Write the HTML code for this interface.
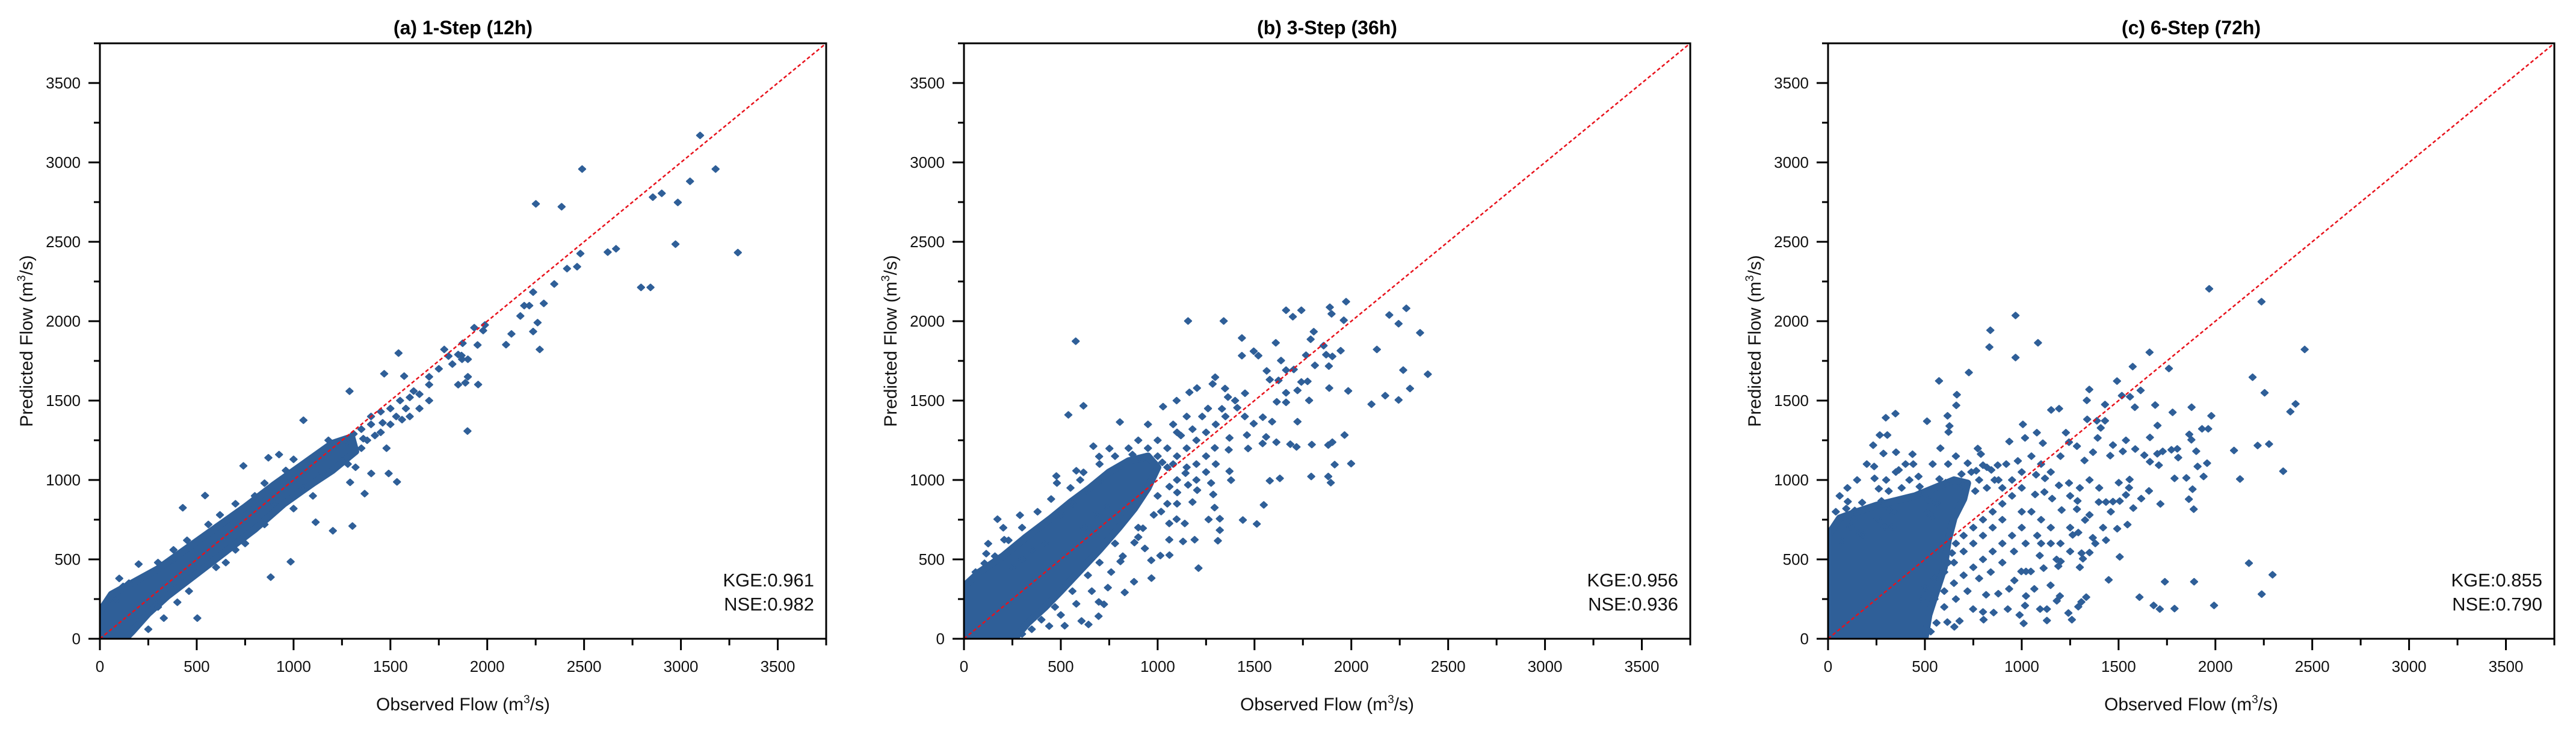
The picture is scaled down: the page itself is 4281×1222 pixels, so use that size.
<!DOCTYPE html>
<html><head><meta charset="utf-8">
<style>
html,body{margin:0;padding:0;background:#fff;}
svg{display:block;font-family:"Liberation Sans",Arial,sans-serif;}
</style></head>
<body>
<svg id="fig" width="4281" height="1222" viewBox="0 0 4281 1222" xmlns="http://www.w3.org/2000/svg"></svg>
<script>
// ---- data (observed, predicted in m3/s) ----
const panelTitles = ["(a) 1-Step (12h)", "(b) 3-Step (36h)", "(c) 6-Step (72h)"];
const kgeValues = ["0.961", "0.956", "0.855"];
const nseValues = ["0.982", "0.936", "0.790"];
const tickValues = [0, 500, 1000, 1500, 2000, 2500, 3000, 3500];
const axisMax = 3750;

const hullA = [[0,0],[0,170],[60,280],[150,340],[300,440],[450,570],[600,700],[750,830],[900,970],[1050,1100],[1200,1230],[1300,1270],[1320,1180],[1200,1060],[1100,980],[950,850],[800,690],[650,550],[500,410],[350,270],[250,160],[170,50],[130,0]];
const hullB = [[0,0],[0,330],[80,420],[200,520],[320,640],[450,760],[550,860],[650,950],[750,1050],[850,1120],[950,1150],[1000,1080],[950,950],[880,820],[800,700],[700,560],[600,430],[500,300],[420,200],[330,100],[260,0]];
const hullC = [[0,0],[0,650],[60,760],[150,800],[250,840],[350,870],[450,900],[550,950],[650,1000],[720,980],[700,880],[650,760],[620,620],[600,450],[560,300],[520,150],[500,0]];

const pointsA = [[3099,3170],[2490,2958],[3179,2958],[2251,2739],[2384,2721],[3047,2881],[2855,2781],[2901,2805],[2984,2748],[2972,2485],[3294,2432],[2794,2213],[2843,2213],[2622,2435],[2665,2456],[2481,2426],[2464,2343],[2412,2331],[2346,2234],[2237,2183],[2292,2112],[2191,2098],[2217,2098],[2171,2033],[2260,1991],[2237,1935],[2271,1822],[2097,1852],[2125,1920],[1933,1959],[1988,1976],[1979,1941],[1873,1861],[1778,1822],[1867,1784],[1898,1308],[1953,1601],[1887,1612],[1542,1799],[1468,1669],[1571,1654],[1534,988],[1491,1041],[1292,985],[1304,710],[1203,680],[1051,1376],[1289,1559],[1401,1041],[1367,914],[882,388],[985,485],[1114,734],[543,902],[428,825],[503,130],[741,1089],[925,1160],[870,1140],[1350,1320],[1400,1400],[1450,1430],[1500,1450],[1550,1500],[1600,1520],[1650,1540],[1700,1650],[1750,1700],[1800,1780],[1850,1790],[1900,1760],[1950,1850],[1350,1200],[1400,1350],[1450,1300],[1500,1350],[1600,1400],[1700,1500],[1700,1600],[1850,1600],[1900,1650],[1650,1450],[1320,1080],[1150,1050],[1820,1730],[1870,1760],[1000,1000],[1050,950],[900,850],[150,350],[120,330],[80,240],[200,470],[700,560],[600,450],[330,130],[250,60],[380,500],[1250,1120],[1280,1230],[1380,1250],[1420,1280],[1460,1360],[1530,1400],[1580,1450],[1620,1560],[1560,1380],[1480,1200],[1280,1100],[1360,1260],[1310,1290],[1180,1250],[1000,1130],[960,1060],[850,980],[800,900],[700,850],[620,780],[560,720],[450,620],[380,560],[300,480],[650,480],[750,600],[850,720],[1000,820],[1100,900],[460,300],[400,230],[300,200],[100,380]];

const pointsB = [[1973,2123],[1889,2088],[1663,2069],[1742,2069],[1698,2028],[1898,2046],[1961,2006],[2284,2081],[2196,2039],[2244,1984],[2355,1927],[1157,2001],[1341,2001],[577,1874],[1435,1894],[1610,1864],[1806,1934],[1790,1886],[1857,1846],[2132,1822],[1945,1814],[1435,1783],[1496,1811],[1520,1783],[1766,1786],[1870,1789],[1902,1778],[1637,1752],[1812,1722],[1884,1717],[1563,1687],[1663,1692],[1703,1696],[2268,1692],[2395,1666],[1579,1632],[1624,1627],[1297,1647],[1284,1605],[1742,1617],[1774,1621],[1886,1579],[1984,1561],[2303,1576],[2175,1531],[2244,1504],[2104,1477],[1663,1549],[1722,1564],[1782,1501],[1615,1492],[1663,1489],[1722,1367],[1591,1367],[1965,1283],[1902,1238],[1881,1220],[1796,1223],[1685,1225],[1717,1208],[1613,1238],[1542,1230],[1560,1271],[1999,1103],[1914,1097],[1881,1022],[1894,983],[1793,1022],[1631,1010],[1579,995],[1548,843],[1512,723],[1440,748],[1211,445],[539,1410],[617,1467],[805,1365],[1098,1500],[1028,1462],[1164,1552],[1203,1579],[1348,1576],[1451,1546],[1363,1522],[1332,1448],[1411,1455],[1543,1395],[1496,1355],[1461,1283],[1371,1265],[1367,1190],[1295,1202],[1467,1198],[1371,1055],[1379,999],[1276,981],[1287,909],[1294,826],[1321,756],[1321,684],[1311,617],[1263,751],[1191,624],[1131,613],[1140,726],[1098,753],[1060,726],[1060,624],[1061,527],[1014,524],[967,494],[968,382],[878,359],[830,292],[695,142],[643,90],[607,112],[520,82],[668,1213],[751,1198],[698,1148],[580,1058],[617,1048],[477,1025],[480,981],[173,753],[203,699],[289,778],[125,599],[115,536],[106,475],[208,624],[870,1160],[918,1130],[1024,1111],[1144,1043],[1157,969],[1204,936],[1180,861],[1101,921],[1061,958],[1018,801],[924,696],[880,606],[934,569],[808,487],[743,322],[723,217],[696,232],[1050,1080],[1100,1150],[1150,1200],[1200,1250],[1250,1300],[1300,1350],[1000,900],[1100,1000],[1050,1200],[1000,1150],[1120,1280],[1080,1350],[900,700],[780,600],[700,480],[640,400],[560,300],[470,200],[400,120],[350,60],[420,600],[350,560],[300,500],[250,450],[500,780],[560,850],[620,920],[700,1000],[800,1080],[620,700],[680,780],[740,830],[1180,1320],[1230,1400],[1260,1450],[1150,1400],[1100,1300],[1350,1400],[1400,1500],[1450,1400],[1250,1150],[1200,1100],[1150,1080],[1080,1100],[950,1200],[900,1250],[850,1200],[780,1150],[700,1100],[600,1000],[550,950],[450,880],[380,800],[300,700],[230,620],[160,520],[60,420],[1050,850],[980,780],[900,640],[820,520],[760,420],[660,300],[580,220],[500,150],[440,80],[300,30],[1100,850],[1200,1000],[1300,1100],[1250,1050],[1000,1250],[950,1350]];

const pointsC = [[1968,2204],[2238,2123],[968,2036],[838,1943],[833,1837],[968,1771],[1084,1864],[1660,1804],[1573,1714],[1760,1702],[727,1677],[573,1624],[1492,1623],[2192,1647],[2254,1549],[1349,1570],[665,1537],[662,1470],[1517,1531],[1614,1564],[1559,1524],[1336,1501],[1430,1475],[1689,1472],[1779,1426],[1877,1458],[1584,1458],[1979,1404],[2387,1430],[2414,1479],[2461,1822],[1152,1441],[1193,1449],[617,1404],[627,1340],[622,1302],[511,1370],[348,1418],[298,1392],[267,1283],[306,1283],[233,1219],[286,1167],[351,1175],[436,1162],[440,1100],[238,1085],[365,1063],[1006,1350],[1078,1298],[1017,1265],[936,1242],[1109,1232],[1338,1382],[1388,1373],[1430,1373],[1408,1328],[1392,1265],[1538,1250],[1471,1220],[1701,1343],[1662,1268],[1865,1287],[1876,1253],[1931,1322],[1963,1322],[2096,1186],[2218,1217],[2277,1226],[2350,1055],[2127,1006],[1228,1298],[1244,1238],[1285,1213],[1324,1123],[1368,1175],[1457,1153],[1522,1180],[1586,1195],[1633,1156],[1700,1165],[1728,1180],[1773,1190],[1803,1196],[1808,1141],[1901,1181],[1708,1093],[1662,1115],[1908,1085],[1957,1106],[1939,1022],[1789,1010],[1850,1013],[1882,942],[1863,879],[1888,816],[1657,931],[1617,883],[1716,849],[1576,823],[1554,951],[1557,1003],[1501,983],[1538,906],[1506,867],[1471,864],[1435,861],[1398,861],[1546,719],[1493,693],[1506,516],[1449,371],[1435,621],[1367,636],[1350,543],[1309,539],[1316,504],[1292,669],[1263,654],[1285,816],[1288,868],[1327,748],[1206,811],[1244,981],[1192,966],[1157,883],[1117,924],[1069,909],[1074,1033],[1120,1010],[1608,262],[1681,210],[1713,187],[1789,190],[1739,359],[1890,359],[1993,210],[2173,476],[2239,281],[2295,403],[1333,262],[1308,232],[1292,202],[1259,120],[1241,162],[1197,269],[1181,239],[1130,115],[1130,187],[1095,187],[1065,314],[1022,269],[1017,209],[1010,97],[989,150],[928,187],[879,284],[816,277],[855,165],[803,120],[800,169],[749,187],[679,112],[652,75],[616,105],[530,45],[1149,337],[1189,457],[1201,487],[1093,524],[1113,445],[1047,424],[1022,424],[998,424],[962,367],[935,314],[94,820],[138,808],[176,858],[102,864],[114,704],[157,666],[181,654],[70,614],[133,751],[313,811],[257,756],[343,793],[292,704],[332,704],[240,1010],[262,945],[313,930],[276,868],[475,918],[473,958],[467,1022],[575,1006],[607,983],[518,873],[560,853],[514,793],[538,771],[689,1037],[721,1106],[773,1198],[789,1163],[765,1058],[800,1093],[843,1063],[876,1093],[697,966],[900,950],[950,1000],[1000,1050],[880,1000],[820,950],[760,930],[700,900],[1000,700],[950,650],[900,600],[850,550],[800,500],[750,450],[700,400],[650,350],[600,300],[550,250],[1050,800],[1100,750],[1000,800],[900,750],[850,700],[800,650],[750,600],[700,550],[650,480],[600,420],[550,380],[500,320],[480,250],[1100,600],[1150,700],[1200,600],[1250,700],[780,1000],[740,1050],[820,1080],[860,1000],[920,1100],[980,1120],[1050,1150],[1100,1100],[1150,1050],[1200,1150],[1000,950],[950,900],[900,850],[850,800],[800,750],[750,700],[700,650],[660,600],[640,540],[620,480],[600,200],[560,100],[520,50],[660,250],[720,300],[780,380],[840,420],[900,480],[960,550],[1020,600],[1080,650],[1150,600],[1180,500],[1250,550],[1300,450],[1380,600],[1420,700],[1460,800],[1350,780],[1400,950],[1300,950],[1250,900],[1350,1000],[200,1100],[150,1000],[100,950],[60,900],[40,800],[380,950],[420,1000],[400,1100],[350,1050],[300,1000],[620,1100],[660,1150],[580,1200],[540,1100]];

const panelHulls = [hullA, hullB, hullC];
const panelPoints = [pointsA, pointsB, pointsC];

// ---- layout ----
const NS = "http://www.w3.org/2000/svg";
const svg = document.getElementById('fig');
const plotLefts = [166, 1602, 3038];
const plotW = 1207, plotTop = 72, plotBottom = 1062;
const plotH = plotBottom - plotTop;
const DOT = "#2f5f98";

function mk(tag, attrs, parent){
  const e = document.createElementNS(NS, tag);
  for (const k in attrs) e.setAttribute(k, attrs[k]);
  (parent || svg).appendChild(e);
  return e;
}

for (let p = 0; p < 3; p++) {
  const L = plotLefts[p];
  const xs = v => L + v / axisMax * plotW;
  const ys = v => plotBottom - v / axisMax * plotH;

  const g = mk('g', {});
  
  

  const clipId = 'clip' + p;
  const cp = mk('clipPath', {id: clipId}, g);
  mk('rect', {x: L, y: plotTop, width: plotW, height: plotH}, cp);

  const marks = mk('g', {'clip-path': 'url(#' + clipId + ')'}, g);
  
  

  const hull = panelHulls[p];
  const hp = mk('polygon', {points: hull.map(d => xs(d[0]).toFixed(1) + ',' + ys(d[1]).toFixed(1)).join(' '), fill: DOT, stroke: DOT, 'stroke-width': 12, 'stroke-linejoin': 'round'}, marks);
  
  

  panelPoints[p].forEach(d => {
    const cx = xs(d[0]), cy = ys(d[1]);
    const pt = mk('path', {d: `M${cx-5.5},${cy}L${cx},${cy-5}L${cx+5.5},${cy}L${cx},${cy+5}Z`, fill: DOT, stroke: DOT, 'stroke-width': 2.5, 'stroke-linejoin': 'round'}, marks);
    
    
  });

  const ln = mk('line', {x1: xs(0), y1: ys(0), x2: xs(axisMax), y2: ys(axisMax), stroke: '#e8111b', 'stroke-width': 2.5, 'stroke-dasharray': '6,4'}, g);
  
  

  const fr = mk('rect', {x: L, y: plotTop, width: plotW, height: plotH, fill: 'none', stroke: '#000', 'stroke-width': 3}, g);
  
  

  for (let v = 0; v <= axisMax; v += 250) {
    const major = v % 500 === 0;
    const tx = mk('line', {x1: xs(v), y1: plotBottom, x2: xs(v), y2: plotBottom + (major ? 19 : 11), stroke: '#000', 'stroke-width': 3}, g);
    
    
    const ty = mk('line', {x1: L, y1: ys(v), x2: L - (major ? 19 : 10), y2: ys(v), stroke: '#000', 'stroke-width': 3}, g);
    
    
  }
  tickValues.forEach(v => {
    const t1 = mk('text', {x: xs(v), y: plotBottom + 55, 'font-size': 26, 'text-anchor': 'middle', fill: '#111'}, g);
    t1.textContent = v;
    
    
    const t2 = mk('text', {x: L - 32, y: ys(v) + 9, 'font-size': 26, 'text-anchor': 'end', fill: '#111'}, g);
    t2.textContent = v;
    
    
  });

  const tt = mk('text', {x: L + plotW / 2, y: 57, 'font-size': 32, 'font-weight': 'bold', 'text-anchor': 'middle', fill: '#000'}, g);
  tt.textContent = panelTitles[p];
  
  

  const xl = mk('text', {x: L + plotW / 2, y: 1181, 'font-size': 30, 'text-anchor': 'middle', fill: '#111'}, g);
  xl.innerHTML = 'Observed Flow (m<tspan dy="-12" font-size="19">3</tspan><tspan dy="12">/s)</tspan>';
  
  
  const yl = mk('text', {x: 0, y: 0, 'font-size': 30, 'text-anchor': 'middle', fill: '#111', transform: `translate(${L - 112},${(plotTop + plotBottom) / 2}) rotate(-90)`}, g);
  yl.innerHTML = 'Predicted Flow (m<tspan dy="-12" font-size="19">3</tspan><tspan dy="12">/s)</tspan>';
  
  

  const k = mk('text', {x: L + plotW - 20, y: 975, 'font-size': 31, 'text-anchor': 'end', fill: '#111'}, g);
  k.textContent = 'KGE:' + kgeValues[p];
  
  
  const n = mk('text', {x: L + plotW - 20, y: 1015, 'font-size': 31, 'text-anchor': 'end', fill: '#111'}, g);
  n.textContent = 'NSE:' + nseValues[p];
  
  
}
</script>
</body></html>
